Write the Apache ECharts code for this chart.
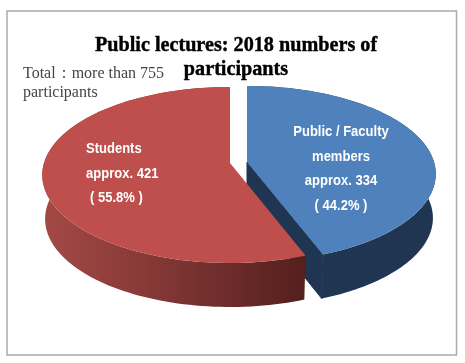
<!DOCTYPE html>
<html><head><meta charset="utf-8">
<style>html,body{margin:0;padding:0;background:#fff}#c{width:465px;height:363px}</style>
<script src="https://cdn.jsdelivr.net/npm/echarts@6/dist/echarts.min.js"></script>
</head><body><div id="c"></div>
<script>
const categories = ['Public / Faculty members', 'Students'];
const values = [334, 421];
const labelLines = [
  ['Public / Faculty', 'members', 'approx. 334', '( 44.2% )'],
  ['Students', 'approx. 421', '( 55.8% )']
];
const titleText = 'Public lectures: 2018 numbers of\nparticipants';
const noteText = 'Total\uFF1Amore than 755\nparticipants';

const total = values.reduce((a, b) => a + b, 0);
const K = 0.136, B = 86.4, DEPTH = 44, SHRINK = 0.985;
const layouts = [
  { cx: 247, cy: 162, a: 187, lx: [341, 341, 341, 341], ly: [132, 157, 181, 206], align: 'center',
    top: '#4F81BD', wall: '#1F3552', showCut: true },
  { cx: 230, cy: 163, a: 186, lx: [86, 86, 90], ly: [149, 174, 198], align: 'left',
    top: '#BE4F4C', showCut: false,
    wall: { type: 'linear', x: 0, y: 0, x2: 1, y2: 0, colorStops: [
      { offset: 0, color: '#A54946' }, { offset: 0.5, color: '#7E3533' }, { offset: 1, color: '#541F1D' }] } }
];
function pt(l, deg, low) {
  const t = deg * Math.PI / 180, X = Math.sin(t), Y = -Math.cos(t), d = 1 - K * Y;
  const a = low ? l.a * SHRINK : l.a;
  return [l.cx + a * X / d, l.cy + (low ? DEPTH : 0) + B * Y / d];
}
function arc(l, s, e, low) {
  const out = [], n = 120;
  for (let i = 0; i <= n; i++) out.push(pt(l, s + (e - s) * i / n, low));
  return out;
}
function renderItem(params, api) {
  const i = params.dataIndex, l = layouts[i];
  let before = 0;
  for (let j = 0; j < i; j++) before += values[j];
  const s = before / total * 360, e = s + api.value(1) / total * 360;
  const topArc = arc(l, s, e, false), lowArc = arc(l, s, e, true);
  const apex = [l.cx, l.cy], apexLow = [l.cx, l.cy + DEPTH];
  const children = [
    { type: 'polygon', shape: { points: topArc.concat(lowArc.slice().reverse()) }, style: { fill: l.wall } }
  ];
  if (l.showCut) {
    children.push({ type: 'polygon',
      shape: { points: [apex, topArc[topArc.length - 1], lowArc[lowArc.length - 1], apexLow] },
      style: { fill: l.wall, stroke: l.wall, lineWidth: 1 } });
  }
  children.push({ type: 'polygon', shape: { points: [apex].concat(topArc) }, style: { fill: l.top } });
  labelLines[i].forEach((txt, n) => children.push({
    type: 'text', z2: 10, x: l.lx[n], y: l.ly[n], scaleX: 0.93,
    style: { text: txt, x: 0, y: 0, fill: '#fff', align: l.align, verticalAlign: 'middle',
      font: 'bold 14px "Liberation Sans", Arial, sans-serif' }
  }));
  return { type: 'group', children };
}
const chart = echarts.init(document.getElementById('c'), null, { renderer: 'canvas' });
chart.setOption({
  animation: false,
  backgroundColor: '#fff',
  title: {
    text: titleText, left: 231, top: 29, textAlign: 'center',
    textStyle: { fontFamily: '"Liberation Serif", serif', fontWeight: 'bold', fontSize: 20.2, color: '#000', lineHeight: 24,
      textBorderColor: '#000', textBorderWidth: 0.4 }
  },
  graphic: [
    { type: 'rect', z: -1, shape: { x: 7, y: 11, width: 449.5, height: 344 },
      style: { fill: '#fff', stroke: '#ABABAB', lineWidth: 1.5 } },
    { type: 'text', z: 20, left: 23, top: 64,
      style: { text: noteText, fill: '#444', font: '16px "Liberation Serif", serif', lineHeight: 19 } }
  ],
  series: [{
    type: 'custom', coordinateSystem: 'none', renderItem,
    data: categories.map((c, i) => ({ name: c, value: [i, values[i]] }))
  }]
});
</script></body></html>
